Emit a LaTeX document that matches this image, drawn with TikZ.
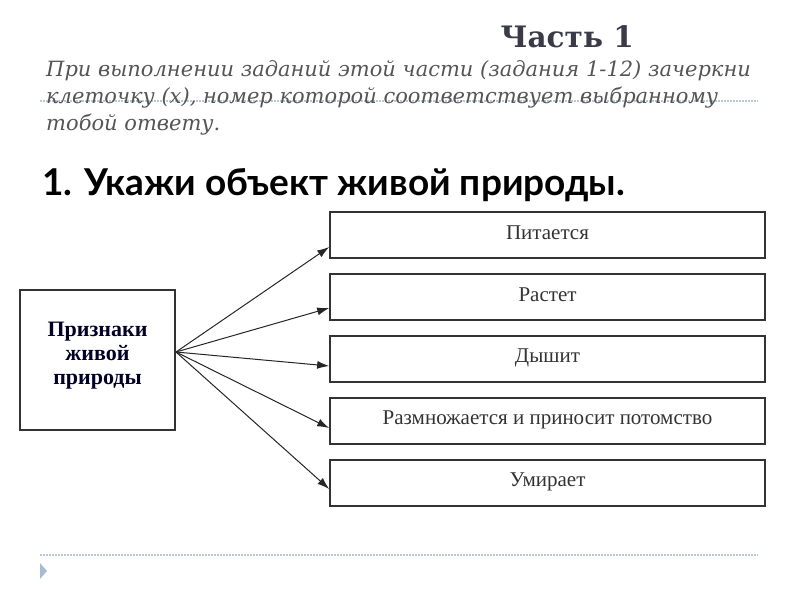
\documentclass[tikz,border=0pt]{standalone}
\usepackage{fontspec}
\setmainfont{Liberation Serif}
\newfontfamily\slabfont{DejaVu Serif}
\newfontfamily\headfont{Lato}
\usetikzlibrary{arrows.meta}
\definecolor{dotblue}{HTML}{B8C8D8}
\definecolor{tri}{HTML}{A7BCD1}
\definecolor{titlegrey}{HTML}{3A3A48}
\definecolor{italgrey}{HTML}{555555}
\definecolor{boxtext}{HTML}{333333}
\tikzset{
  boxnode/.style={draw=black!80, line width=1.6pt, minimum width=435pt, minimum height=46pt, inner sep=0pt},
  leftbox/.style={draw=black!80, line width=1.6pt, minimum width=155pt, minimum height=140pt, inner sep=0pt},
  conn/.style={-{Latex[length=12pt,width=8pt]}, line width=1pt, black!85},
  dotline/.style={dotblue, line width=1.2pt, dash pattern=on 1.5pt off 1.5pt},
  itline/.style={anchor=base west, inner sep=0pt, text=italgrey, font=\slabfont\itshape\fontsize{21}{24}\selectfont},
  boxlabel/.style={anchor=base, inner sep=0pt, text=boxtext, font=\fontsize{21}{24}\selectfont}
}
\begin{document}
\begin{tikzpicture}[x=1pt,y=-1pt]
\useasboundingbox (0,0) rectangle (800,600);
\draw[dotline] (40,101) -- (758,101);
\draw[dotline] (40,555) -- (758,555);
\fill[tri] (40,563) -- (47,571) -- (40,579) -- cycle;
\node[anchor=base east, inner sep=0pt, text=titlegrey, font=\slabfont\bfseries\fontsize{29.5}{32}\selectfont] (title) at (634,47) {Часть 1};
\node[itline] (l1) at (46,76) {При выполнении заданий этой части (задания 1-12) зачеркни};
\node[itline] (l2) at (46,103) {клеточку (х), номер которой соответствует выбранному};
\node[itline] (l3) at (46,130) {тобой ответу.};
\node[anchor=base west, inner sep=0pt, font=\headfont\bfseries\fontsize{37}{40}\selectfont] (head) at (42,195) {1. Укажи объект живой природы.};
\node[leftbox] (L) at (97.5,360) {};
\node[align=center, text=black!85!blue, font=\bfseries\fontsize{22}{24}\selectfont] (Ltext) at (97.5,356) {Признаки\\живой\\природы};
\node[boxnode] (b1) at (547.5,235) {};
\node[boxnode] (b2) at (547.5,297) {};
\node[boxnode] (b3) at (547.5,359) {};
\node[boxnode] (b4) at (547.5,421) {};
\node[boxnode] (b5) at (547.5,483) {};
\node[boxlabel] (t1) at (547.5,239) {Питается};
\node[boxlabel] (t2) at (547.5,301) {Растет};
\node[boxlabel] (t3) at (547.5,362) {Дышит};
\node[boxlabel] (t4) at (547.5,424) {Размножается и приносит потомство};
\node[boxlabel] (t5) at (547.5,486) {Умирает};
\coordinate (src) at (176,352);
\draw[conn] (src) -- (b1.west |- 0,247);
\draw[conn] (src) -- (b2.west |- 0,308);
\draw[conn] (src) -- (b3.west |- 0,366);
\draw[conn] (src) -- (b4.west |- 0,428);
\draw[conn] (src) -- (b5.west |- 0,489);
\end{tikzpicture}
\end{document}
